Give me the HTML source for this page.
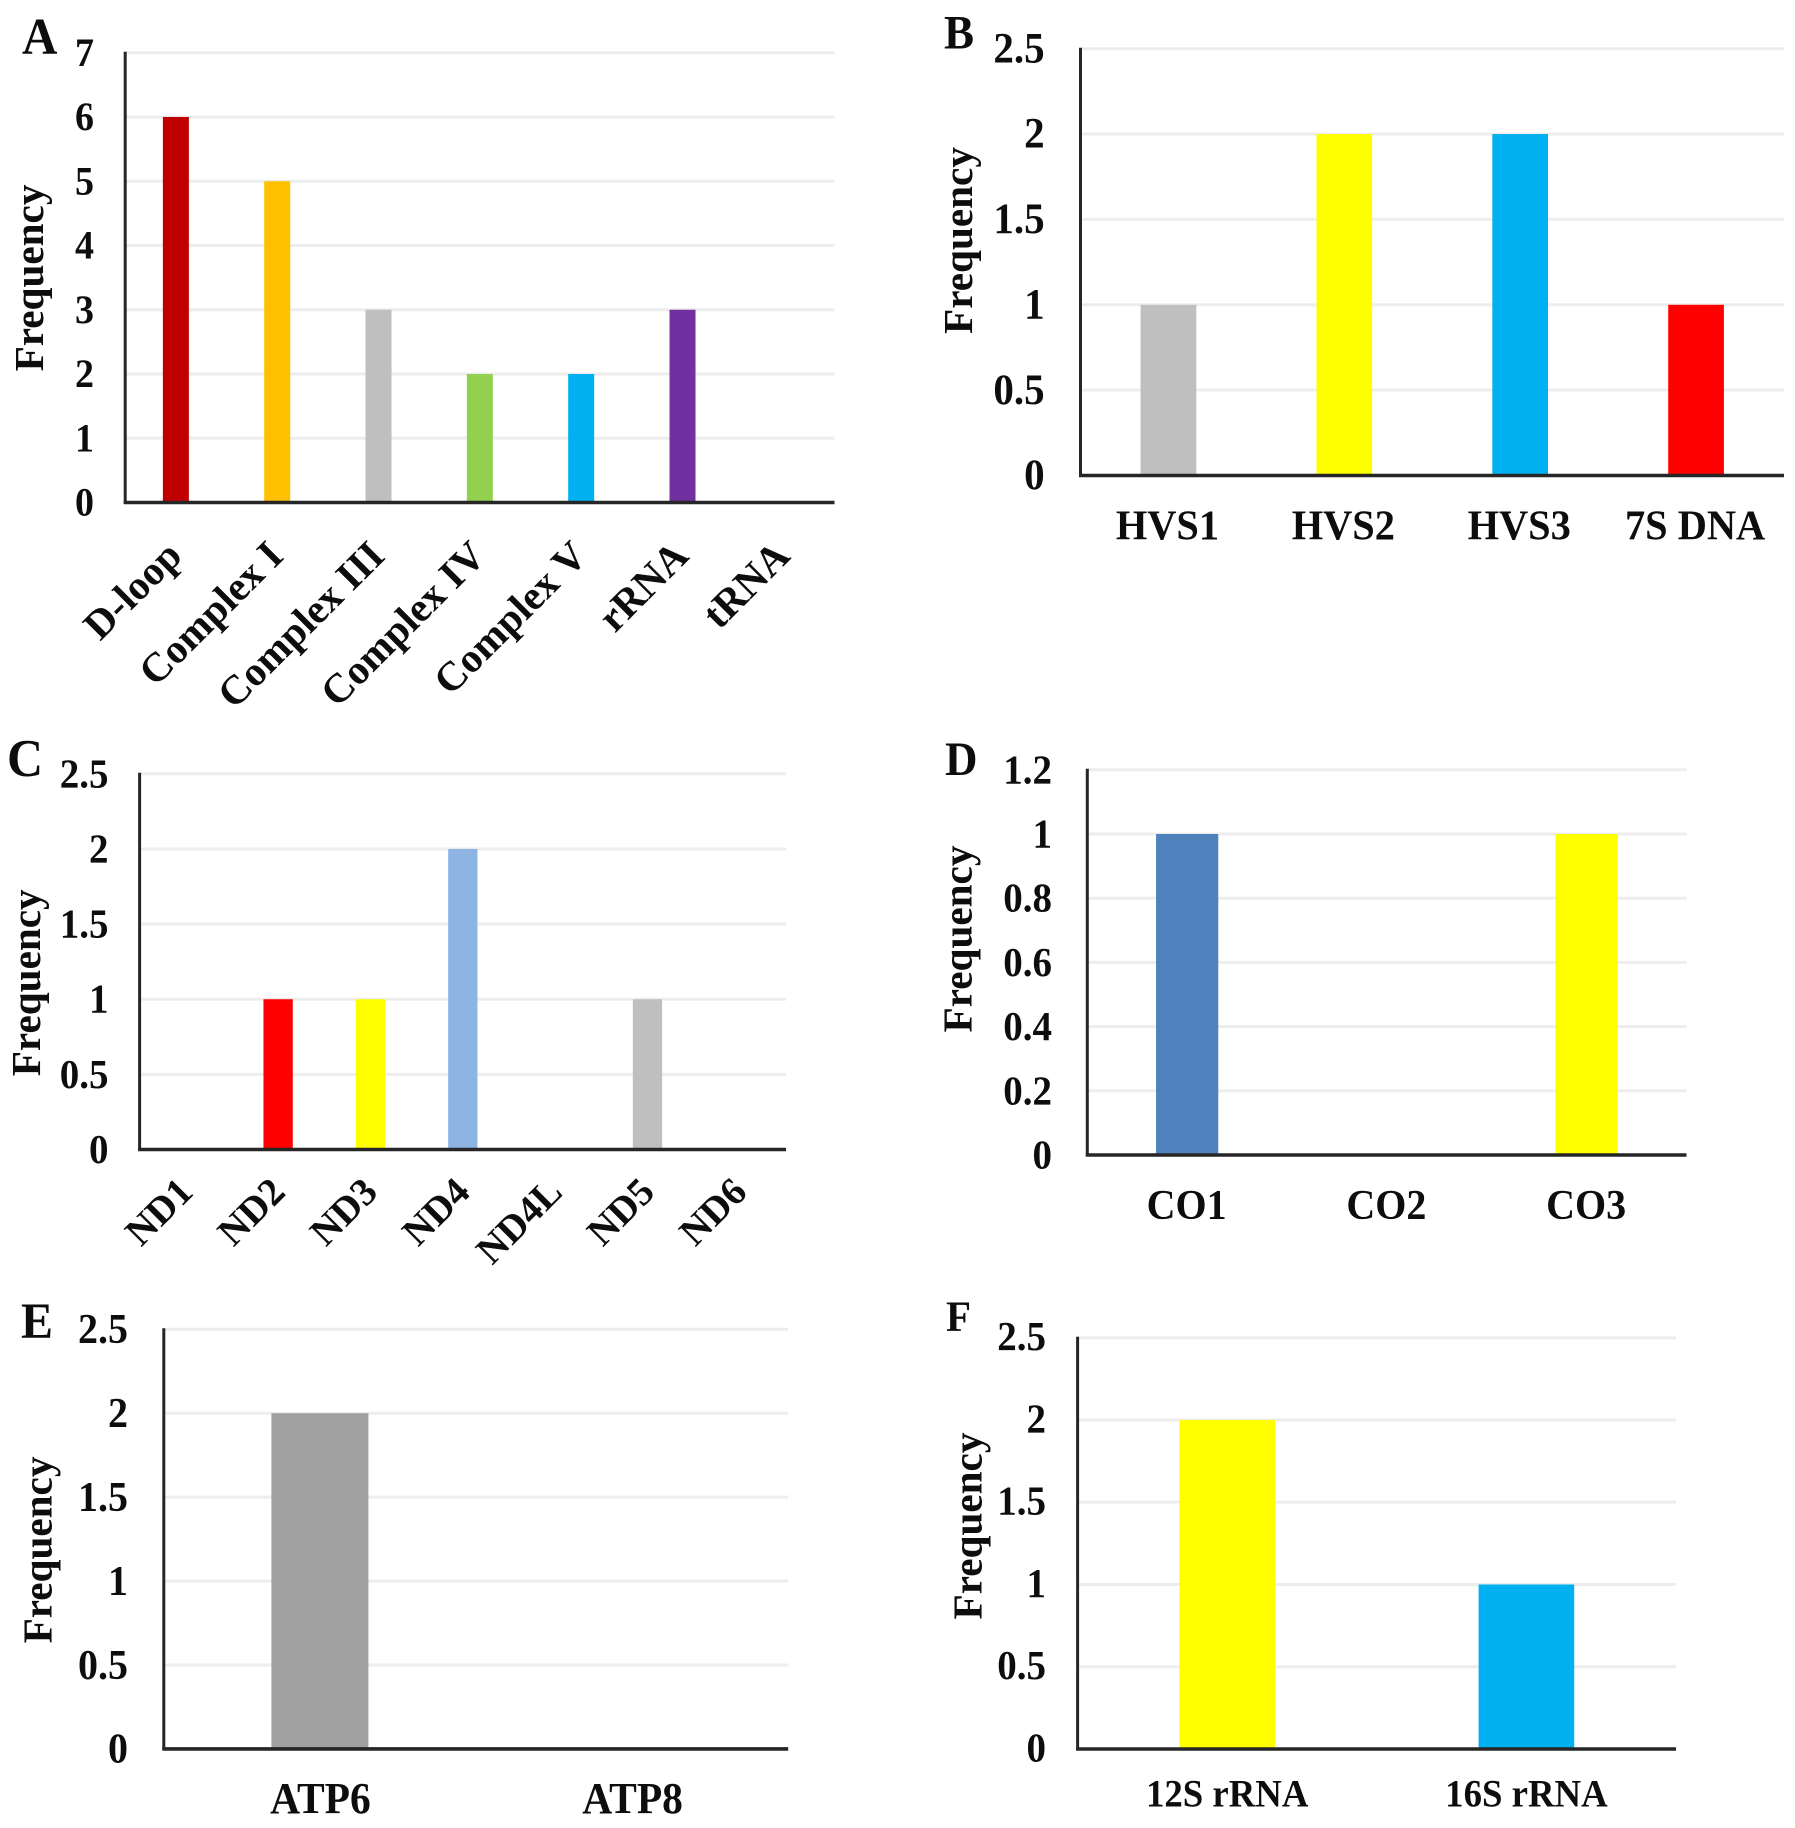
<!DOCTYPE html>
<html lang="en">
<head>
<meta charset="utf-8">
<title>Frequency of mitochondrial variants by region</title>
<style>
html,body{margin:0;padding:0;background:#fff;width:1795px;height:1828px;overflow:hidden}
svg{display:block}
text{font-family:"Liberation Serif",serif;font-weight:bold;fill:#0d0d0d}
</style>
</head>
<body>
<svg id="figure" xmlns="http://www.w3.org/2000/svg" width="1795" height="1828" viewBox="0 0 1795 1828"></svg>
<script>
const categoriesA = ['D-loop', 'Complex I', 'Complex III', 'Complex IV', 'Complex V', 'rRNA', 'tRNA'];
const valuesA = [6, 5, 3, 2, 2, 3, 0];
const ticksA = ['0', '1', '2', '3', '4', '5', '6', '7'];
const coloursA = ['#c00000', '#ffc000', '#bfbfbf', '#92d050', '#00b0f0', '#7030a0', '#7030a0'];

const categoriesB = ['HVS1', 'HVS2', 'HVS3', '7S DNA'];
const valuesB = [1, 2, 2, 1];
const ticksB = ['0', '0.5', '1', '1.5', '2', '2.5'];
const coloursB = ['#bfbfbf', '#ffff00', '#00b0f0', '#ff0000'];

const categoriesC = ['ND1', 'ND2', 'ND3', 'ND4', 'ND4L', 'ND5', 'ND6'];
const valuesC = [0, 1, 1, 2, 0, 1, 0];
const ticksC = ['0', '0.5', '1', '1.5', '2', '2.5'];
const coloursC = ['#bfbfbf', '#ff0000', '#ffff00', '#8eb4e3', '#bfbfbf', '#bfbfbf', '#bfbfbf'];

const categoriesD = ['CO1', 'CO2', 'CO3'];
const valuesD = [1, 0, 1];
const ticksD = ['0', '0.2', '0.4', '0.6', '0.8', '1', '1.2'];
const coloursD = ['#4f81bd', '#bfbfbf', '#ffff00'];

const categoriesE = ['ATP6', 'ATP8'];
const valuesE = [2, 0];
const ticksE = ['0', '0.5', '1', '1.5', '2', '2.5'];
const coloursE = ['#a0a0a0', '#a0a0a0'];

const categoriesF = ['12S rRNA', '16S rRNA'];
const valuesF = [2, 1];
const ticksF = ['0', '0.5', '1', '1.5', '2', '2.5'];
const coloursF = ['#ffff00', '#00b0f0'];

const NS = 'http://www.w3.org/2000/svg';
const svg = document.getElementById('figure');
const STRETCH = 1.06;

function make(parent, tag, attrs, txt) {
  const el = document.createElementNS(NS, tag);
  for (const k in attrs) el.setAttribute(k, attrs[k]);
  if (txt !== undefined) el.textContent = txt;
  parent.appendChild(el);
  return el;
}
function slug(s) {
  return String(s).toLowerCase().replace(/[^a-z0-9]+/g, '-');
}
function upright(x, y) {
  return 'translate(' + x + ' ' + y + ') scale(1 ' + STRETCH + ')';
}

function drawPanel(p) {
  const g = make(svg, 'g', {});
  
  

  const yMax = Math.max.apply(null, p.ticks.map(Number));
  const yScale = function (v) { return p.base - (v / yMax) * (p.base - p.top); };
  const band = (p.right - p.left) / p.categories.length;
  const xCentre = function (i) { return p.left + band * (i + 0.5); };

  const letter = make(g, 'text', { transform: upright(p.letterX, p.letterY), 'font-size': p.letterSize }, p.letter);
  
  

  p.ticks.forEach(function (t) {
    const y = yScale(Number(t));
    if (Number(t) !== 0) {
      const line = make(g, 'line', { x1: p.left, x2: p.right, y1: y, y2: y, stroke: '#ededed', 'stroke-width': 3 });
      
      
    }
    const label = make(g, 'text', {
      transform: upright(p.tickRight, y + p.tickSize * 0.338 * STRETCH + p.tickShift),
      'font-size': p.tickSize, 'text-anchor': 'end'
    }, t);
    
    
  });

  p.values.forEach(function (v, i) {
    const yTop = yScale(v);
    const bar = make(g, 'rect', { x: xCentre(i) - p.barWidth / 2, y: yTop, width: p.barWidth, height: p.base - yTop, fill: p.colours[i] });
    
    
  });

  const yAxis = make(g, 'line', { x1: p.left, x2: p.left, y1: p.top - 1, y2: p.base + 1, stroke: '#262626', 'stroke-width': 3 });
  
  
  const xAxis = make(g, 'line', { x1: p.left - 1.5, x2: p.right, y1: p.base, y2: p.base, stroke: '#262626', 'stroke-width': 3.6 });
  
  

  p.categories.forEach(function (c, i) {
    const attrs = { 'font-size': p.catSize };
    const ax = xCentre(i) + p.catDx;
    if (p.rotated) {
      attrs.x = ax;
      attrs.y = p.catY;
      attrs['text-anchor'] = 'end';
      attrs.transform = 'rotate(-45 ' + ax + ' ' + p.catY + ')';
    } else {
      attrs.transform = upright(ax, p.catY);
      attrs['text-anchor'] = 'middle';
    }
    const label = make(g, 'text', attrs, c);
    
    
  });

  const title = make(g, 'text', {
    x: p.titleX, y: p.titleY, 'font-size': 41.2, 'text-anchor': 'middle',
    transform: 'rotate(-90 ' + p.titleX + ' ' + p.titleY + ')'
  }, 'Frequency');
  
  
}

drawPanel({ letter: 'A', categories: categoriesA, values: valuesA, ticks: ticksA, colours: coloursA,
  left: 125.2, right: 834.5, top: 52.7, base: 502.5, barWidth: 26,
  letterX: 22, letterY: 54, letterSize: 49, tickRight: 94, tickSize: 38, tickShift: -0.5,
  catSize: 41, rotated: true, catDx: 8, catY: 558, titleX: 43, titleY: 278 });

drawPanel({ letter: 'B', categories: categoriesB, values: valuesB, ticks: ticksB, colours: coloursB,
  left: 1080.5, right: 1784, top: 48.7, base: 475.5, barWidth: 55.7,
  letterX: 944, letterY: 48.5, letterSize: 45, tickRight: 1044.6, tickSize: 41, tickShift: -1,
  catSize: 40.4, rotated: false, catDx: -1, catY: 539.5, titleX: 972, titleY: 240.5 });

drawPanel({ letter: 'C', categories: categoriesC, values: valuesC, ticks: ticksC, colours: coloursC,
  left: 139.6, right: 786, top: 773.8, base: 1149.5, barWidth: 29.3,
  letterX: 7, letterY: 776, letterSize: 50, tickRight: 108.5, tickSize: 39, tickShift: -0.5,
  catSize: 39, rotated: true, catDx: 9, catY: 1194, titleX: 40, titleY: 982.8 });

drawPanel({ letter: 'D', categories: categoriesD, values: valuesD, ticks: ticksD, colours: coloursD,
  left: 1087.3, right: 1686.5, top: 769.8, base: 1155, barWidth: 62.2,
  letterX: 945, letterY: 775, letterSize: 45, tickRight: 1052, tickSize: 39, tickShift: -0.5,
  catSize: 40, rotated: false, catDx: -0.5, catY: 1219, titleX: 971.5, titleY: 939 });

drawPanel({ letter: 'E', categories: categoriesE, values: valuesE, ticks: ticksE, colours: coloursE,
  left: 163.8, right: 788.2, top: 1329.3, base: 1748.9, barWidth: 97,
  letterX: 21, letterY: 1338, letterSize: 48, tickRight: 128, tickSize: 40, tickShift: -0.5,
  catSize: 41.5, rotated: false, catDx: 0.5, catY: 1813, titleX: 51.5, titleY: 1550 });

drawPanel({ letter: 'F', categories: categoriesF, values: valuesF, ticks: ticksF, colours: coloursF,
  left: 1077.6, right: 1676, top: 1337.7, base: 1749, barWidth: 95.6,
  letterX: 946, letterY: 1331, letterSize: 41, tickRight: 1046, tickSize: 39, tickShift: -1.5,
  catSize: 36.8, rotated: false, catDx: 0, catY: 1806.5, titleX: 981.5, titleY: 1526 });
</script>
</body>
</html>
